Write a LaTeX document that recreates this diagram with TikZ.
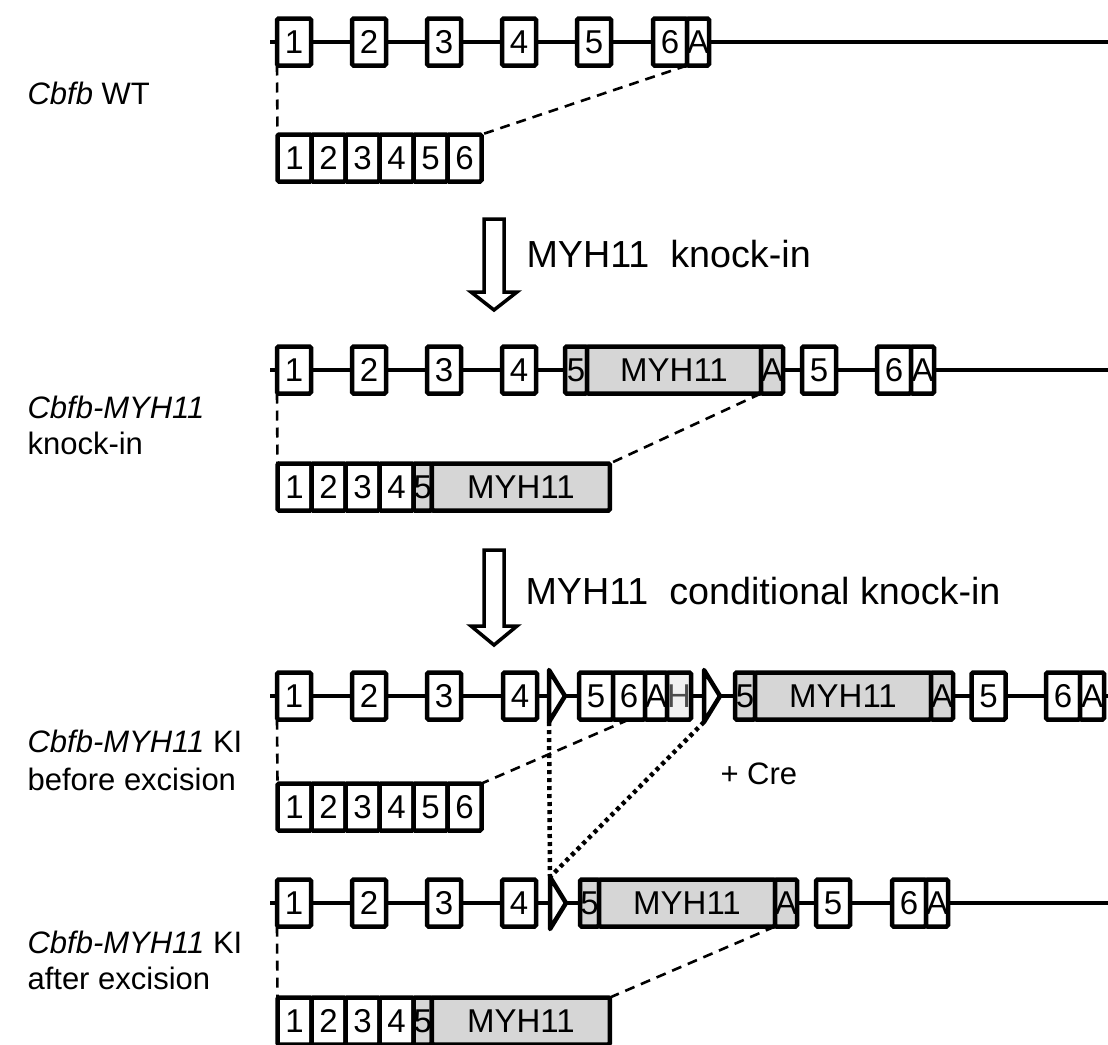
\documentclass[tikz,border=0pt]{standalone}
\usepackage{fontspec}
\setmainfont{Liberation Sans}
\usetikzlibrary{positioning}
\definecolor{mygray}{HTML}{D6D6D6}
\tikzset{
  exon/.style={draw, line width=4.5pt, fill=white, rounded corners=1.5pt, minimum width=34pt,
               minimum height=47pt, inner sep=0pt, outer sep=0pt, font=\fontsize{33}{33}\selectfont},
  narrow/.style={exon, minimum width=22pt},
  fusion/.style={exon, fill=mygray},
  loxp/.style={draw, line width=4.5pt, fill=white, line join=round},
  intron/.style={line width=4.5pt},
  splice/.style={line width=2.6pt, dash pattern=on 10pt off 7pt},
  creline/.style={line width=4.5pt, dash pattern=on 4pt off 4pt},
  bigarrow/.style={draw, line width=3.5pt, fill=white, line join=miter},
  lab/.style={anchor=base west, font=\fontsize{31}{31}\selectfont},
  steplab/.style={anchor=base west, font=\fontsize{37.7}{38}\selectfont},
}
\begin{document}
\begin{tikzpicture}[x=1pt, y=-1pt]
  \useasboundingbox (0,0) rectangle (1108,1044);
  % Cbfb WT
  \draw[intron] (270,42) -- (1108,42);
  \node[exon] (wt1) at (294,42) {1};
  \node[exon] (wt2) at (369,42) {2};
  \node[exon] (wt3) at (444,42) {3};
  \node[exon] (wt4) at (519,42) {4};
  \node[exon] (wt5) at (594,42) {5};
  \node[exon] (wt6) at (670,42) {6};
  \node[narrow, right=0pt of wt6] (wtA) {A};
  \node[exon] (wtm1) at (294.5,158) {1};
  \node[exon, right=0pt of wtm1] (wtm2) {2};
  \node[exon, right=0pt of wtm2] (wtm3) {3};
  \node[exon, right=0pt of wtm3] (wtm4) {4};
  \node[exon, right=0pt of wtm4] (wtm5) {5};
  \node[exon, right=0pt of wtm5] (wtm6) {6};
  \draw[splice] (wt1.south west) -- (wtm1.north west);
  \draw[splice] (wtA.south west) -- (wtm6.north east);
  \node[lab] (wtlab) at (24,104) {\textit{Cbfb} WT};

  % knock-in step
  \draw[bigarrow] (484,219) -- (504,219) -- (504,292) -- (517,292) -- (494,310)
    -- (471,292) -- (484,292) -- cycle;
  \node[steplab] (kistep) at (523,267) {MYH11\ \ knock-in};

  % Cbfb-MYH11 knock-in
  \draw[intron] (270,370) -- (1108,370);
  \node[exon] (k1) at (294,370) {1};
  \node[exon] (k2) at (369,370) {2};
  \node[exon] (k3) at (444,370) {3};
  \node[exon] (k4) at (519,370) {4};
  \node[fusion, minimum width=22pt] (kf5) at (576,370) {5};
  \node[fusion, minimum width=174pt, right=0pt of kf5] (kmyh) {MYH11};
  \node[fusion, minimum width=21pt, right=0pt of kmyh] (kfA) {A};
  \node[exon] (k5) at (819,370) {5};
  \node[exon] (k6) at (894,370) {6};
  \node[narrow, minimum width=23pt, right=0pt of k6] (kA) {A};
  \node[exon] (km1) at (294.5,487) {1};
  \node[exon, right=0pt of km1] (km2) {2};
  \node[exon, right=0pt of km2] (km3) {3};
  \node[exon, right=0pt of km3] (km4) {4};
  \node[fusion, minimum width=18pt, right=0pt of km4] (km5) {5};
  \node[fusion, minimum width=178pt, right=0pt of km5] (kmm) {MYH11};
  \draw[splice] (k1.south west) -- (km1.north west);
  \draw[splice] (kfA.south west) -- (kmm.north east);
  \node[lab] (kilab1) at (24,418) {\textit{Cbfb-MYH11}};
  \node[lab] (kilab2) at (24,454) {knock-in};

  % conditional knock-in step
  \draw[bigarrow] (484,550) -- (504,550) -- (504,626) -- (517,626) -- (494,645)
    -- (471,626) -- (484,626) -- cycle;
  \node[steplab] (ckistep) at (522,604) {MYH11\ \ conditional knock-in};

  % before excision
  \draw[intron] (270,696) -- (1108,696);
  \node[exon] (b1) at (294,696) {1};
  \node[exon] (b2) at (369,696) {2};
  \node[exon] (b3) at (444,696) {3};
  \node[exon] (b4) at (520,696) {4};
  \draw[loxp] (549,670) -- (565,696) -- (549,722) -- cycle;
  \coordinate (blox1) at (549,722);
  \node[exon] (b5) at (596,696) {5};
  \node[exon, minimum width=32pt, right=0pt of b5] (b6) {6};
  \node[narrow, right=0pt of b6] (bA) {A};
  \node[narrow, minimum width=24pt, fill=gray!12, text=black!70, right=0pt of bA] (bH) {H};
  \draw[loxp] (704,670) -- (720,696) -- (704,722) -- cycle;
  \coordinate (blox2) at (704,722);
  \node[fusion, minimum width=20pt] (bf5) at (745,696) {5};
  \node[fusion, minimum width=176pt, right=0pt of bf5] (bmyh) {MYH11};
  \node[fusion, minimum width=19pt, right=0pt of bmyh] (bfA) {A};
  \node[exon] (bx5) at (988.5,696) {5};
  \node[exon] (bx6) at (1063,696) {6};
  \node[narrow, minimum width=24pt, right=0pt of bx6] (bxA) {A};
  \node[exon] (bm1) at (294.5,807) {1};
  \node[exon, right=0pt of bm1] (bm2) {2};
  \node[exon, right=0pt of bm2] (bm3) {3};
  \node[exon, right=0pt of bm3] (bm4) {4};
  \node[exon, right=0pt of bm4] (bm5) {5};
  \node[exon, right=0pt of bm5] (bm6) {6};
  \draw[splice] (b1.south west) -- (bm1.north west);
  \draw[splice] (b6.south) -- (bm6.north east);
  \node[lab] (bxlab1) at (24,752) {\textit{Cbfb-MYH11} KI};
  \node[lab] (bxlab2) at (24,790) {before excision};
  \node[lab] (cre) at (717,784) {+ Cre};

  % after excision
  \draw[intron] (270,903) -- (1108,903);
  \node[exon] (d1) at (294,903) {1};
  \node[exon] (d2) at (369,903) {2};
  \node[exon] (d3) at (444,903) {3};
  \node[exon] (d4) at (519,903) {4};
  \draw[loxp] (550,877) -- (566,903) -- (550,929) -- cycle;
  \coordinate (dlox) at (550,877);
  \node[fusion, minimum width=19pt] (df5) at (589.5,903) {5};
  \node[fusion, minimum width=176pt, right=0pt of df5] (dmyh) {MYH11};
  \node[fusion, minimum width=20pt, right=0pt of dmyh] (dfA) {A};
  \node[exon] (d5) at (833,903) {5};
  \node[exon] (d6) at (909,903) {6};
  \node[narrow, right=0pt of d6] (dA) {A};
  \node[exon] (dm1) at (294.5,1021) {1};
  \node[exon, right=0pt of dm1] (dm2) {2};
  \node[exon, right=0pt of dm2] (dm3) {3};
  \node[exon, right=0pt of dm3] (dm4) {4};
  \node[fusion, minimum width=17pt, right=0pt of dm4] (dm5) {5};
  \node[fusion, minimum width=178pt, right=0pt of dm5] (dmm) {MYH11};
  \draw[splice] (d1.south west) -- (dm1.north west);
  \draw[splice] (dfA.south west) -- (dmm.north east);
  \node[lab] (axlab1) at (24,953) {\textit{Cbfb-MYH11} KI};
  \node[lab] (axlab2) at (24,989) {after excision};

  % Cre excision between loxP sites
  \draw[creline] (blox1) -- (dlox);
  \draw[creline] (blox2) -- (dlox);
\end{tikzpicture}
\end{document}
